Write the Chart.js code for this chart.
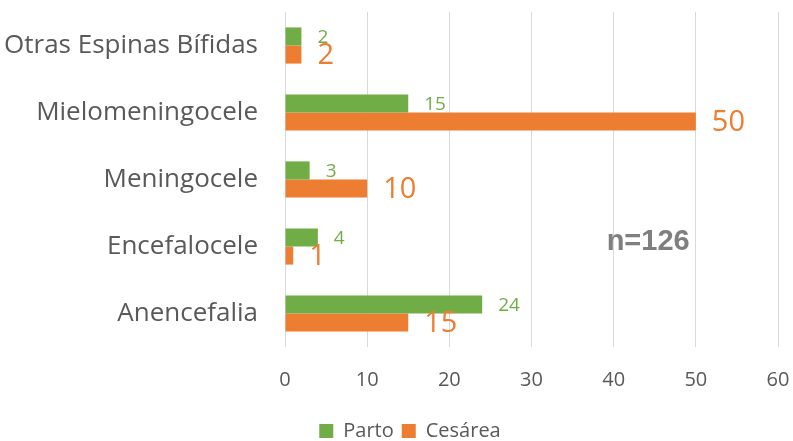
<!DOCTYPE html>
<html>
<head>
<meta charset="utf-8">
<script src="https://cdn.jsdelivr.net/npm/chart.js@4/dist/chart.umd.min.js"></script>
<style>
  html, body { margin: 0; padding: 0; background: #fff; }
  #wrap { width: 793px; height: 441px; }
</style>
</head>
<body>
<div id="wrap"><canvas id="myChart" width="793" height="441"></canvas></div>
<script>
const categories = ['Otras Espinas Bífidas', 'Mielomeningocele', 'Meningocele', 'Encefalocele', 'Anencefalia'];
const partoValues = [2, 15, 3, 4, 24];
const cesareaValues = [2, 50, 10, 1, 15];
const xTicks = [0, 10, 20, 30, 40, 50, 60];
const noteText = 'n=126';

const green = '#70AD47';
const orange = '#ED7D31';
const fontName = 'Open Sans';

// etiquetas de valores al final de cada barra
const valueLabels = {
    id: 'valueLabels',
    afterLayout(chart) {
        // la leyenda del original está algo desplazada a la derecha
        chart.legend.left += 21;
        chart.legend.right += 21;
    },
    afterDatasetsDraw(chart) {
        const c = chart.ctx;
        c.save();
        c.textBaseline = 'middle';
        c.textAlign = 'left';
        chart.data.datasets.forEach((ds, i) => {
            const meta = chart.getDatasetMeta(i);
            c.fillStyle = ds.backgroundColor;
            c.font = (i === 0 ? '19px ' : '29px ') + fontName;
            meta.data.forEach((bar, j) => {
                c.fillText(String(ds.data[j]), bar.x + 16, bar.y + 1);
            });
        });
        // nota n=126
        const xs = chart.scales.x, ys = chart.scales.y;
        c.font = 'bold 29px "Liberation Sans"';
        c.fillStyle = '#7F7F7F';
        c.textAlign = 'center';
        c.fillText(noteText, xs.getPixelForValue(44.2), ys.getPixelForValue(3) - 5);
        c.restore();
    }
};

new Chart(document.getElementById('myChart').getContext('2d'), {
    type: 'bar',
    data: {
        labels: categories,
        datasets: [{
            label: 'Parto',
            data: partoValues,
            backgroundColor: green
        }, {
            label: 'Cesárea',
            data: cesareaValues,
            backgroundColor: orange
        }]
    },
    options: {
        indexAxis: 'y',
        responsive: false,
        animation: false,
        barPercentage: 1,
        categoryPercentage: 0.54,
        layout: { padding: { top: 12, right: 15, left: 0, bottom: -10 } },
        plugins: {
            legend: {
                position: 'bottom',
                labels: {
                    font: { family: fontName, size: 20 },
                    color: '#595959',
                    boxWidth: 14,
                    boxHeight: 14,
                    padding: 8
                }
            },
            tooltip: { enabled: false }
        },
        scales: {
            x: {
                min: 0,
                max: 60,
                afterBuildTicks(scale) {
                    scale.ticks = xTicks.map(v => ({ value: v }));
                },
                afterFit(scale) {
                    scale.height = 66;
                    scale.paddingLeft = 0;
                    scale.paddingRight = 0;
                },
                grid: { color: '#D9D9D9', lineWidth: 1, drawTicks: false },
                border: { display: false },
                ticks: {
                    font: { family: fontName, size: 20 },
                    color: '#595959',
                    padding: 21
                }
            },
            y: {
                afterFit(scale) {
                    scale.width = 285;
                    scale.paddingTop = 0;
                    scale.paddingBottom = 0;
                },
                grid: { display: false },
                border: { display: false },
                ticks: {
                    font: { family: fontName, size: 26 },
                    color: '#595959',
                    padding: 19
                }
            }
        }
    },
    plugins: [valueLabels]
});
</script>
</body>
</html>
